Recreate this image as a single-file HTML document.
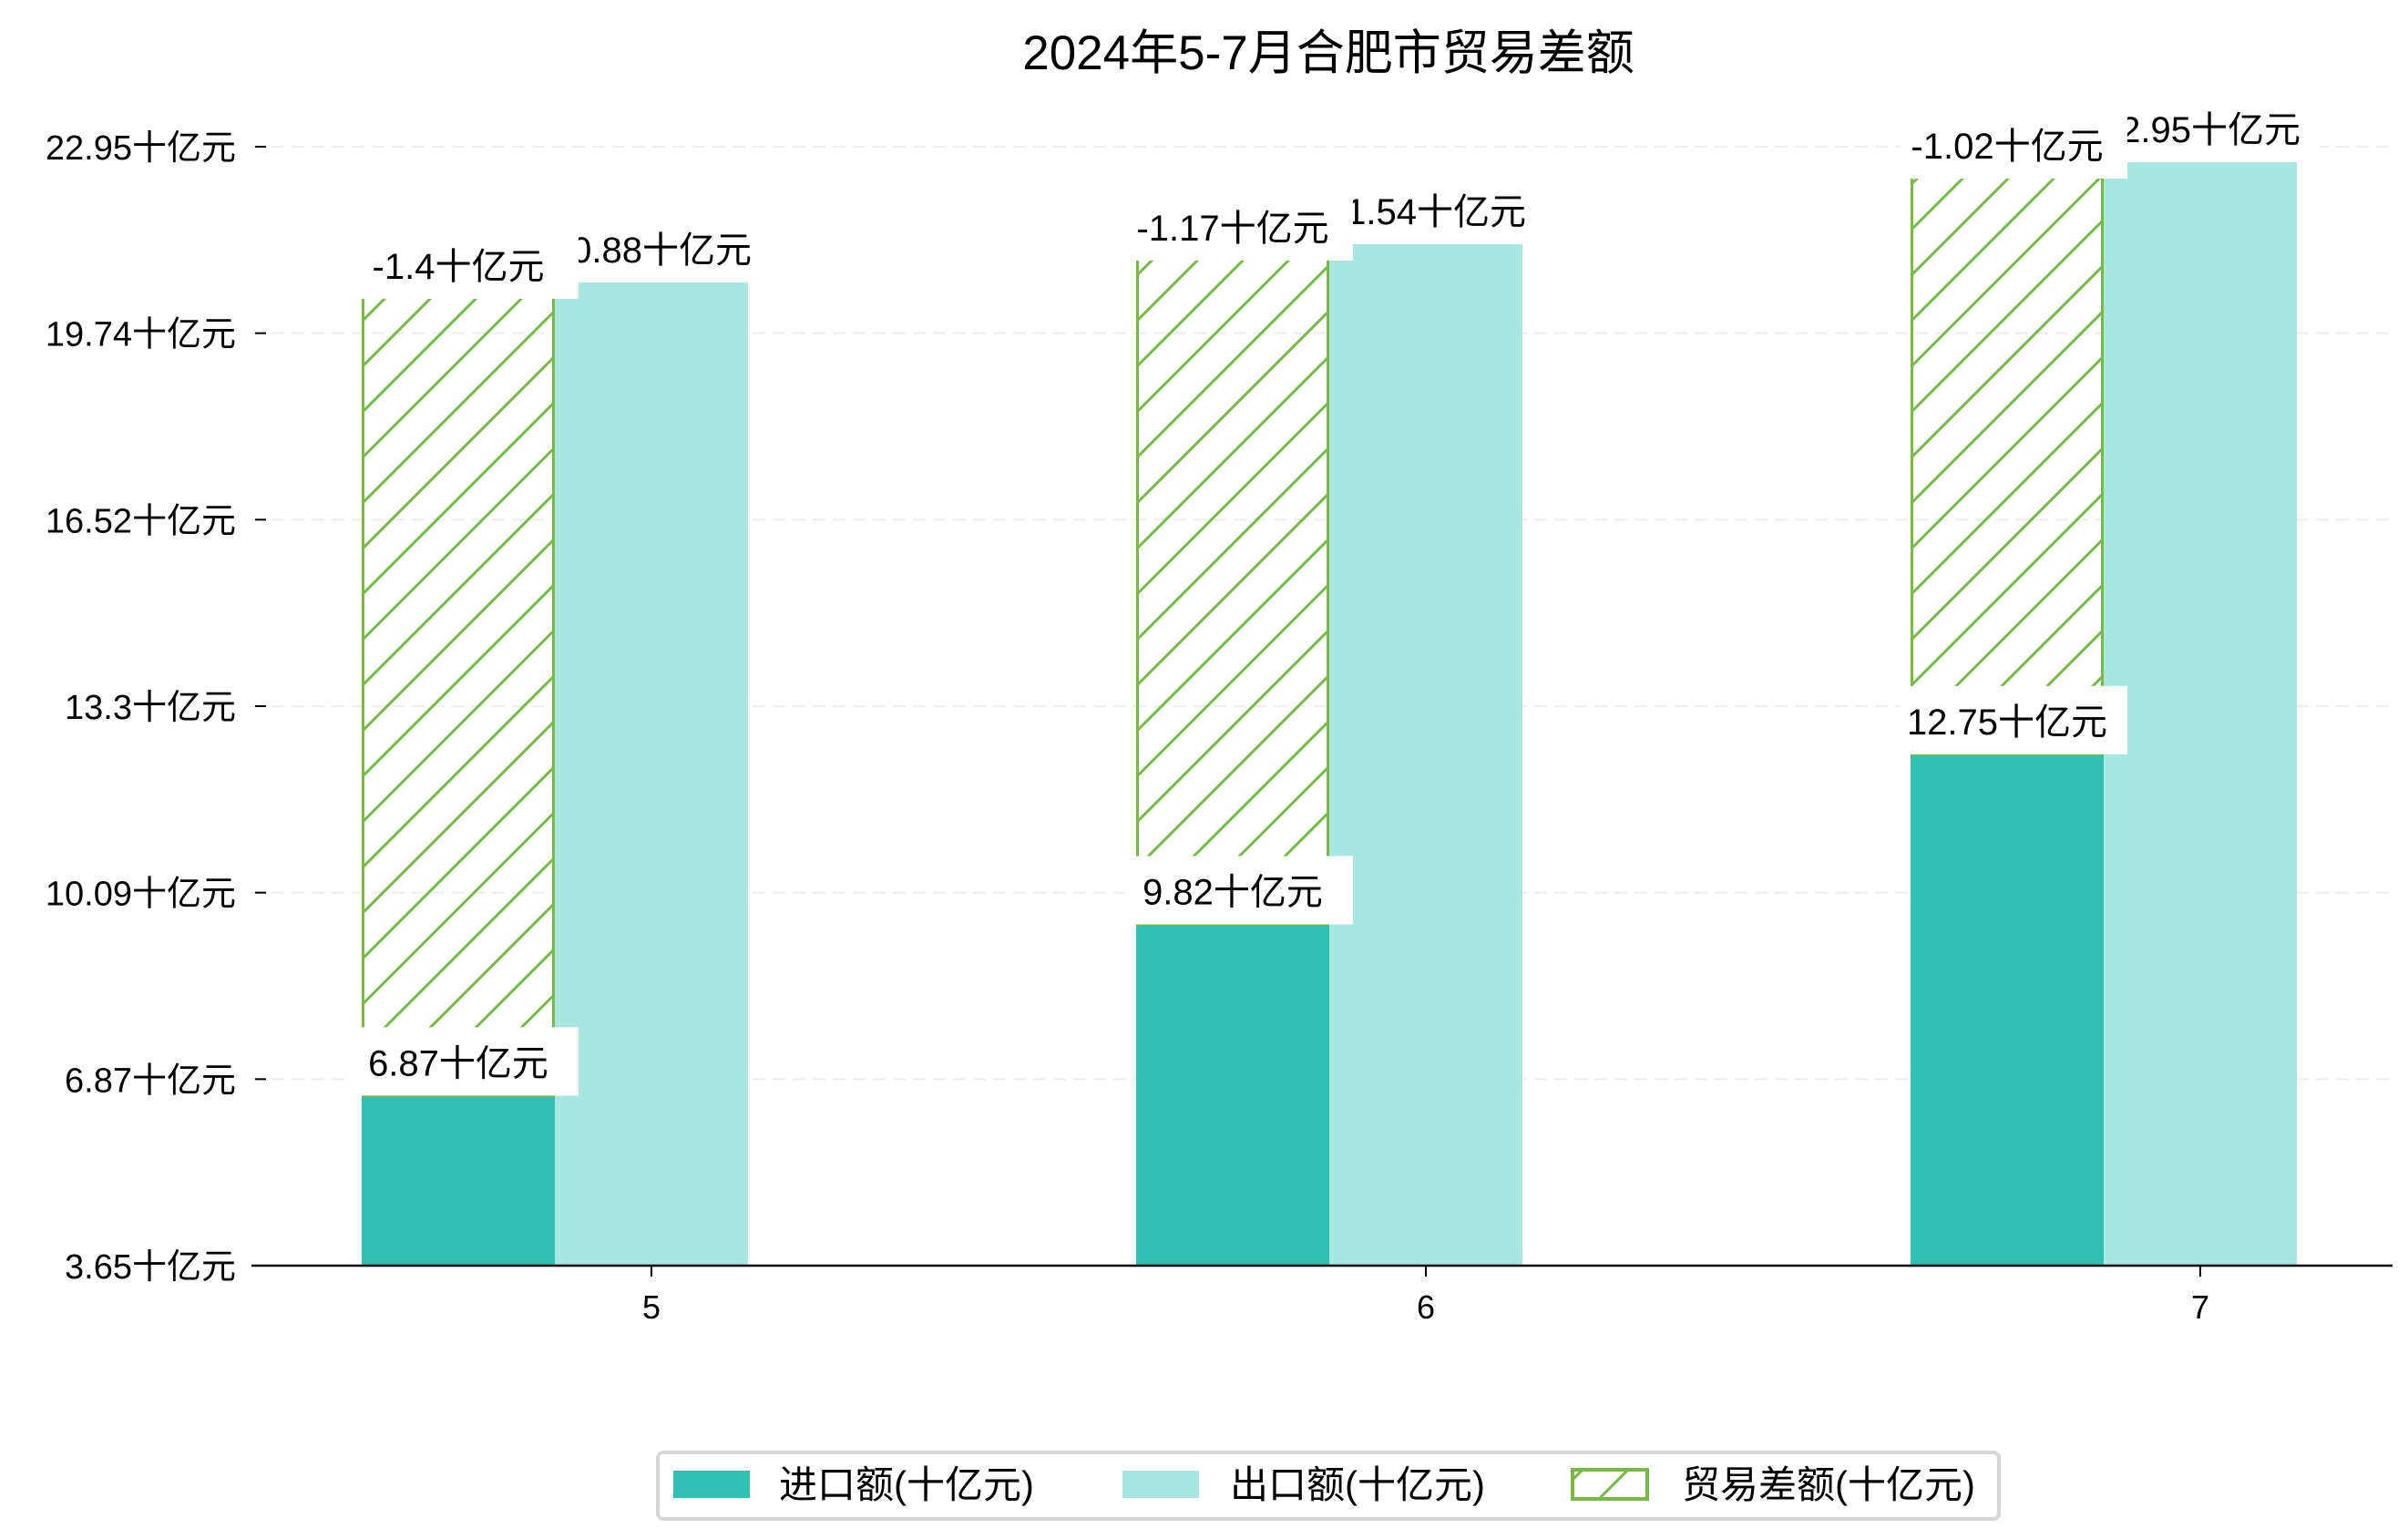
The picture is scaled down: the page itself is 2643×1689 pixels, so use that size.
<!DOCTYPE html>
<html><head><meta charset="utf-8"><style>
html,body{margin:0;padding:0;background:#fff;}
svg{display:block;font-family:"Liberation Sans","Noto Sans CJK SC",sans-serif;}
</style></head><body>
<svg id="chart" width="2643" height="1689" viewBox="0 0 2643 1689">
<defs>
<pattern id="hatch" patternUnits="userSpaceOnUse" width="50" height="50">
<path d="M-5,5 L5,-5 M0,50 L50,0 M45,55 L55,45" stroke="#77bb44" stroke-width="3"/>
</pattern>
</defs>
<text x="1458" y="76" font-size="53" text-anchor="middle" fill="#000">2024年5-7月合肥市贸易差额</text>
<g id="grid"></g>
<g id="bars"></g>
<g id="labels"></g>
<g id="axes"></g>
<g>
<rect x="722" y="1594" width="1472" height="73" rx="6" fill="#fff" stroke="#d6d6d6" stroke-width="4"/>
<rect x="739" y="1614" width="84" height="30" fill="#2ec1b3"/>
<text x="855" y="1644" font-size="42">进口额(十亿元)</text>
<rect x="1232" y="1614" width="84" height="30" fill="#a8e6e0"/>
<text x="1350" y="1644" font-size="42">出口额(十亿元)</text>
<rect x="1726" y="1613" width="82" height="32" fill="url(#hatch)" stroke="#77bb44" stroke-width="4"/>
<text x="1846" y="1644" font-size="42">贸易差额(十亿元)</text>
</g>
</svg>
<script>
const categories = ['5', '6', '7'];
const importValues = [6.87, 9.82, 12.75];
const exportValues = [20.88, 21.54, 22.95];
const balanceValues = [-1.4, -1.17, -1.02];
const yTickLabels = ['3.65', '6.87', '10.09', '13.3', '16.52', '19.74', '22.95'];

const NS = 'http://www.w3.org/2000/svg';
const plotLeft = 276, plotRight = 2626, axisY = 1389, topTickY = 161;
const zeroY = 1640, pxPerUnit = 63.7;
const firstCenter = 715, catStep = 850, barW = 212;
function y(v) { return zeroY - v * pxPerUnit; }
function xc(i) { return firstCenter + i * catStep; }
function mk(tag, attrs, parent) {
  const e = document.createElementNS(NS, tag);
  for (const k in attrs) e.setAttribute(k, attrs[k]);
  parent.appendChild(e);
  return e;
}
const grid = document.getElementById('grid');
const bars = document.getElementById('bars');
const labels = document.getElementById('labels');
const axes = document.getElementById('axes');

// y ticks (evenly spaced)
const nT = yTickLabels.length;
yTickLabels.forEach((t, i) => {
  const ty = axisY - i * (axisY - topTickY) / (nT - 1);
  if (i > 0) {
    const g = mk('line', {x1: plotLeft, x2: plotRight, y1: ty, y2: ty, stroke: '#eeeeee', 'stroke-width': 2, 'stroke-dasharray': '14 8'}, grid);
    
    
  }
  const tk = mk('line', {x1: 280, x2: 292, y1: ty, y2: ty, stroke: '#000', 'stroke-width': 2}, axes);
  
  
  const lb = mk('text', {x: 259, y: ty + 14, 'font-size': 38, 'text-anchor': 'end'}, axes);
  lb.textContent = t + '十亿元';
  
  
});
const ax = mk('line', {x1: plotLeft, x2: plotRight, y1: axisY, y2: axisY, stroke: '#000', 'stroke-width': 2.5}, axes);



function label(cx, baseline, text, boxBottom, boxed, name) {
  const w = 228, h = 75;
  if (boxed) {
    const r = mk('rect', {x: cx - w / 2 - 4, y: boxBottom - h, width: w + 22, height: h, fill: '#fff'}, labels);
    
    
  }
  const t = mk('text', {x: cx, y: baseline, 'font-size': 40, 'text-anchor': 'middle'}, labels);
  t.textContent = text;
  
  
}

categories.forEach((c, i) => {
  const ec = xc(i), il = ec - barW / 2 - barW;
  const iTop = y(importValues[i]), eTop = y(exportValues[i]);
  const ib = mk('rect', {x: il, y: iTop, width: barW, height: axisY - iTop, fill: '#2ec1b3'}, bars);
  
  
  const eb = mk('rect', {x: ec - barW / 2, y: eTop, width: barW, height: axisY - eTop, fill: '#a8e6e0'}, bars);
  
  
  const hb = mk('rect', {x: il + 1.5, y: eTop, width: barW - 3, height: iTop - eTop, fill: 'url(#hatch)', stroke: '#77bb44', 'stroke-width': 3}, bars);
  
  
  const tk = mk('line', {x1: ec, x2: ec, y1: axisY, y2: axisY + 12, stroke: '#000', 'stroke-width': 2}, axes);
  
  
  const xl = mk('text', {x: ec, y: 1447, 'font-size': 36, 'text-anchor': 'middle'}, axes);
  xl.textContent = c;
  
  

  const icx = il + barW / 2;
  label(ec, eTop - 22, exportValues[i] + '十亿元', eTop, true, 'export-label-' + c);
  label(icx, eTop - 4, balanceValues[i] + '十亿元', eTop + 18, true, 'balance-label-' + c);
  label(icx, iTop - 22, importValues[i] + '十亿元', iTop, true, 'import-label-' + c);
});
</script>
</body></html>
